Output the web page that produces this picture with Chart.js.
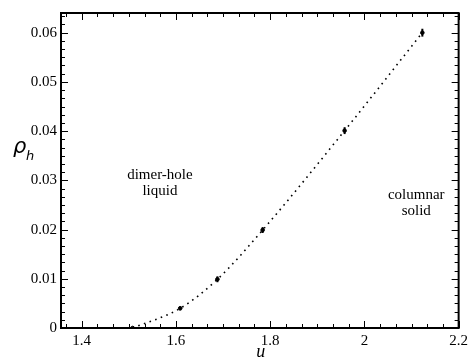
<!DOCTYPE html>
<html>
<head>
<meta charset="utf-8">
<script src="https://cdn.jsdelivr.net/npm/chart.js@4/dist/chart.umd.min.js"></script>
<style>
html,body{margin:0;padding:0;background:#fff;}
#wrap{width:472px;height:360px;position:relative;}
</style>
</head>
<body>
<div id="wrap"><canvas id="c" width="472" height="360"></canvas></div>
<script>
// ---- data ----
const uVals   = [1.508, 1.609, 1.688, 1.784, 1.958, 2.123];
const rhoVals = [0.0000, 0.0040, 0.0099, 0.0199, 0.0401, 0.0600];
const rhoErr  = [0.0002, 0.0004, 0.0006, 0.0006, 0.0007, 0.0008];
const xTickVals = [1.4, 1.6, 1.8, 2.0, 2.2];
const xTickLabels = ['1.4', '1.6', '1.8', '2', '2.2'];
const yTickVals = [0, 0.01, 0.02, 0.03, 0.04, 0.05, 0.06];
const yTickLabels = ['0', '0.01', '0.02', '0.03', '0.04', '0.05', '0.06'];
const phaseLabels = [
  {lines: ['dimer-hole', 'liquid'], u: 1.566, rho: 0.0311},
  {lines: ['columnar', 'solid'], u: 2.11, rho: 0.0270}
];
const xTitle = 'u';
const yTitleMain = 'ρ';
const yTitleSub = 'h';

const X_MIN = 1.356, X_MAX = 2.2, Y_MIN = 0, Y_MAX = 0.064;
const SERIF = 'Liberation Serif, Times New Roman, Times, serif';

const pts = uVals.map((u, i) => ({x: u, y: rhoVals[i]}));

const framePlugin = {
  id: 'frame',
  afterDatasetsDraw(chart) {
    const {ctx, chartArea: a, scales} = chart;
    const xs = scales.x, ys = scales.y;
    ctx.save();
    // error bars
    ctx.strokeStyle = '#000';
    ctx.lineWidth = 2;
    uVals.forEach((u, i) => {
      const px = xs.getPixelForValue(u);
      const p1 = ys.getPixelForValue(rhoVals[i] - rhoErr[i]);
      const p2 = ys.getPixelForValue(rhoVals[i] + rhoErr[i]);
      ctx.beginPath(); ctx.moveTo(px, Math.min(p1, a.bottom)); ctx.lineTo(px, p2); ctx.stroke();
    });
    // ticks
    ctx.lineWidth = 1;
    const majL = 7, minL = 4;
    const xStep = 0.2 / 6, yStep = 0.01 / 6;
    for (let i = -6; i <= 30; i++) {
      const v = 1.4 + i * xStep;
      if (v < X_MIN - 1e-9 || v > X_MAX + 1e-9) continue;
      const px = Math.round(xs.getPixelForValue(v)) + 0.5;
      const L = (i % 6 === 0) ? majL : minL;
      ctx.beginPath();
      ctx.moveTo(px, a.bottom); ctx.lineTo(px, a.bottom - L);
      ctx.moveTo(px, a.top); ctx.lineTo(px, a.top + L);
      ctx.stroke();
    }
    for (let i = 0; i <= 60; i++) {
      const v = i * yStep;
      if (v > Y_MAX + 1e-12) continue;
      const py = Math.round(ys.getPixelForValue(v)) + 0.5;
      const L = (i % 6 === 0) ? majL : minL;
      ctx.beginPath();
      ctx.moveTo(a.left, py); ctx.lineTo(a.left + L, py);
      ctx.moveTo(a.right, py); ctx.lineTo(a.right - L, py);
      ctx.stroke();
    }
    // frame
    ctx.lineWidth = 2;
    ctx.strokeRect(a.left, a.top, a.right - a.left, a.bottom - a.top);
    // phase labels
    ctx.fillStyle = '#000';
    ctx.font = '15px ' + SERIF;
    ctx.textAlign = 'center';
    ctx.textBaseline = 'middle';
    phaseLabels.forEach(lbl => {
      const px = xs.getPixelForValue(lbl.u);
      const py = ys.getPixelForValue(lbl.rho);
      lbl.lines.forEach((t, k) => ctx.fillText(t, px, py + k * 16));
    });
    // axis titles
    ctx.font = 'italic 18px ' + SERIF;
    ctx.textBaseline = 'alphabetic';
    ctx.fillText(xTitle, (a.left + a.right) / 2 + 1, 357);
    ctx.textAlign = 'left';
    ctx.font = 'italic 21px DejaVu Sans, sans-serif';
    ctx.fillText(yTitleMain, 13, 153);
    ctx.font = 'italic 13px DejaVu Sans, sans-serif';
    ctx.fillText(yTitleSub, 26, 160);
    ctx.restore();
  }
};

new Chart(document.getElementById('c'), {
  type: 'scatter',
  data: {
    datasets: [
      {
        label: 'fit',
        type: 'line',
        data: pts,
        showLine: true,
        borderColor: '#000',
        borderWidth: 1.6,
        borderDash: [1.6, 4.4],
        cubicInterpolationMode: 'monotone',
        pointRadius: 0,
        fill: false,
        order: 2
      },
      {
        label: 'rho_h',
        data: pts,
        backgroundColor: '#000',
        borderColor: '#000',
        pointRadius: 1.8,
        pointStyle: 'circle',
        order: 1
      }
    ]
  },
  plugins: [framePlugin],
  options: {
    responsive: false,
    animation: false,
    devicePixelRatio: 1,
    layout: {padding: {left: 0, top: 10, right: 10, bottom: 0}},
    plugins: {legend: {display: false}, tooltip: {enabled: false}},
    scales: {
      x: {
        type: 'linear', min: X_MIN, max: X_MAX,
        grid: {display: false, drawTicks: false},
        border: {display: false},
        afterFit: s => { s.height = 32; },
        afterBuildTicks: s => { s.ticks = xTickVals.map(v => ({value: v})); },
        ticks: {
          padding: 4,
          color: '#000',
          font: {family: SERIF, size: 15},
          maxRotation: 0,
          autoSkip: false,
          callback: (v) => { const i = xTickVals.findIndex(t => Math.abs(t - v) < 1e-9); return i >= 0 ? xTickLabels[i] : ''; }
        }
      },
      y: {
        type: 'linear', min: Y_MIN, max: Y_MAX,
        grid: {display: false, drawTicks: false},
        border: {display: false},
        afterFit: s => { s.width = 61; },
        afterBuildTicks: s => { s.ticks = yTickVals.map(v => ({value: v})); },
        ticks: {
          padding: 4,
          color: '#000',
          font: {family: SERIF, size: 15},
          autoSkip: false,
          callback: (v) => { const i = yTickVals.findIndex(t => Math.abs(t - v) < 1e-9); return i >= 0 ? yTickLabels[i] : ''; }
        }
      }
    }
  }
});
</script>
</body>
</html>
